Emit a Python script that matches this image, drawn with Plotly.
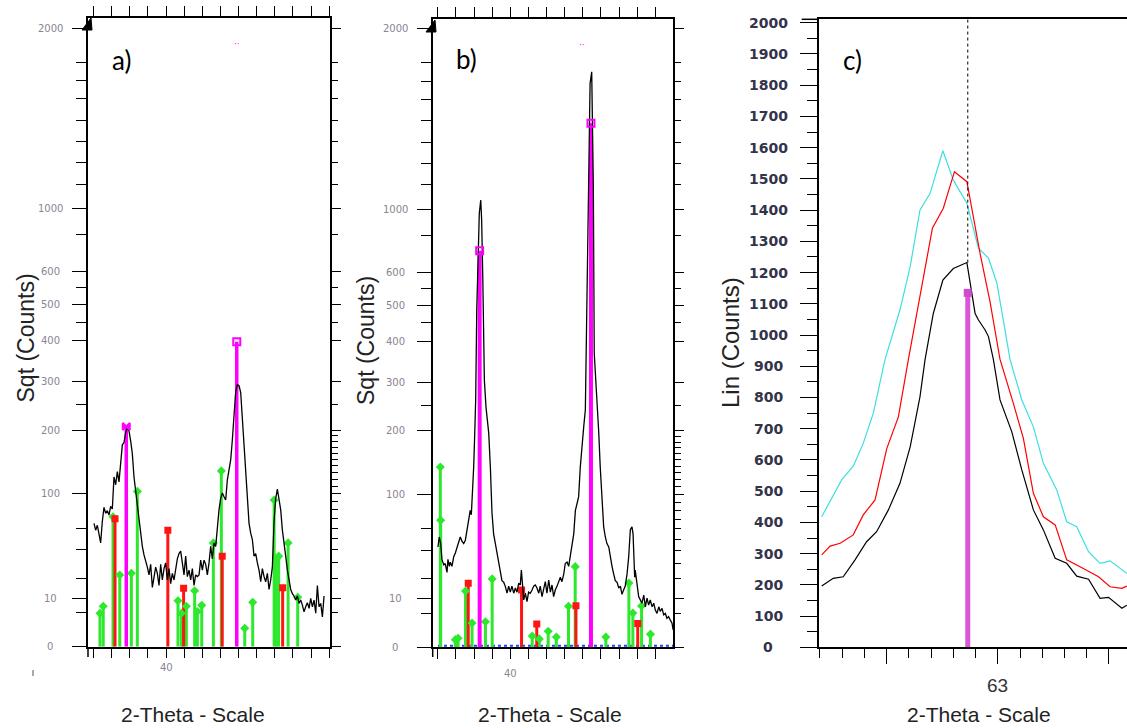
import numpy as np
import plotly.graph_objects as go

# ======================= DATA =======================
# ---- panel a) : square-root intensity scale ----
a_scan_start = 36.03          # 2-theta of first measured point
a_scan_step = 0.0919          # 2-theta step of the scan
a_counts = [65, 58, 63, 52, 46, 67, 83, 76, 79, 74, 84, 81, 123, 112, 131, 116, 146, 174, 178, 196,
            205, 199, 181, 159, 123, 104, 84, 67, 54, 43, 36, 32, 27, 22, 29, 15, 21, 27, 23, 16,
            29, 19, 26, 30, 19, 26, 17, 23, 19, 26, 33, 37, 39, 30, 22, 35, 21, 25, 19, 26,
            16, 22, 21, 22, 32, 25, 32, 29, 22, 30, 43,
            33, 46, 43, 62, 80, 94, 101, 96, 92, 119, 138, 149, 183, 226, 278, 293, 291, 276, 220, 183,
            138, 96, 65, 55, 49, 35, 37, 30, 25, 18, 26, 21, 18, 23, 14, 19, 27, 67, 94, 106,
            92, 80, 58, 43, 35, 25, 18, 14, 12, 11, 9.3, 11, 8, 9.3, 7.4, 5.2, 6.8, 8.3, 6.3, 10,
            6.8, 9.3, 4.8, 16, 6.8, 8, 3.8, 11]
a_green_tt = [36.36, 36.54, 37.08, 37.45, 38.09, 38.42, 40.66, 40.85, 41.12, 41.58, 41.73, 41.97,
              42.61, 43.05, 44.34, 44.78, 45.96, 46.08, 46.21, 46.73, 47.26]
a_green_counts = [4.8, 7.0, 72, 22, 23, 103, 9.0, 4.8, 7.0, 13.4, 5.3, 7.3,
                  46, 132, 1.45, 8.4, 92, 33, 35, 46, 10.4]
a_red_tt = [37.19, 40.10, 40.97, 43.10, 46.43]
a_red_counts = [70, 58, 14.6, 35, 14.8]
a_mag_tt = [37.81, 43.90]
a_mag_counts = [207, 397]

# ---- panel b) : square-root intensity scale ----
b_tt = [36.01, 36.08, 36.16, 36.23, 36.33, 36.41, 36.51, 36.56, 36.64, 36.69, 36.78, 36.88, 36.97,
        37.06, 37.15, 37.24, 37.34, 37.43, 37.52, 37.61, 37.71, 37.79, 37.85, 37.93, 37.98, 38.04,
        38.09, 38.15, 38.29, 38.37, 38.42, 38.48, 38.57, 38.66, 38.81, 38.90, 38.99, 39.08, 39.17,
        39.27, 39.36, 39.45, 39.54, 39.64, 39.72, 39.82, 39.91, 40.00, 40.09, 40.19, 40.28, 40.37,
        40.46, 40.55, 40.61, 40.68, 40.74, 40.83, 40.92, 41.01, 41.10, 41.20, 41.29, 41.38, 41.47,
        41.57, 41.65, 41.75, 41.84, 41.93, 42.02, 42.12, 42.21, 42.30, 42.39, 42.48, 42.58, 42.67,
        42.76, 42.85, 42.95, 43.03, 43.13, 43.22, 43.31, 43.40, 43.50, 43.59, 43.68, 43.77, 43.86,
        43.95, 44.05, 44.14, 44.21, 44.27, 44.34, 44.40, 44.49, 44.54, 44.58, 44.63, 44.77, 44.88,
        44.96, 45.06, 45.15, 45.24, 45.33, 45.43, 45.52, 45.61, 45.70, 45.79, 45.89, 45.98, 46.07,
        46.16, 46.25, 46.34, 46.44, 46.53, 46.62, 46.71, 46.77, 46.81, 46.86, 46.89, 46.99, 47.08,
        47.17, 47.26, 47.36, 47.45, 47.54, 47.63, 47.72, 47.82, 47.91, 48.00, 48.09, 48.19, 48.27,
        48.37, 48.46, 48.55, 48.64, 48.73, 48.82, 48.92, 48.98]
b_counts = [43, 52, 46, 33, 29, 30, 24, 33, 28, 31, 28, 35, 38,
            43, 49, 52, 48, 46, 49, 59, 73, 80, 75, 106, 139, 196,
            261, 486, 805, 855, 780, 592, 305, 246, 196, 139, 77, 55, 46,
            38, 30, 23, 19, 18, 16, 12.5, 16, 13, 16, 12.5, 15, 13,
            17.5, 16.6, 25.5, 16, 9.6, 12.5, 8.9, 13, 12.5, 14, 16, 16.6, 15,
            12.5, 16, 11, 14, 18.4, 12.5, 19.3, 13, 16.6, 11, 14, 16, 18.4,
            21, 18.4, 23, 30, 31, 28, 35, 43, 55, 80, 89, 97, 139,
            178, 208, 241, 425, 614, 906, 1359, 1415, 1188, 906, 369, 278, 196,
            139, 101, 62, 52, 46, 43, 33, 28, 23, 19, 18, 15, 16,
            12, 14, 16, 23, 35, 59, 62, 55, 38, 21, 25.5, 16, 11,
            9.6, 8.3, 11.6, 7, 10.3, 7.6, 9.6, 7, 8.3, 5.9, 4.9, 7, 5.5,
            6.5, 4.5, 4.9, 3.6, 4, 3.2, 2.5, 1.3]
b_green_tt = [36.14, 36.16, 36.97, 37.12, 37.53, 37.89, 38.63, 39.00, 41.21, 41.60, 42.09, 42.54,
              43.21, 43.58, 45.27, 46.54, 46.76, 47.24, 47.73]
b_green_counts = [139, 69, 0.25, 0.35, 13.5, 2.5, 2.8, 20, 0.55, 0.3, 1.1, 0.45,
                  7.2, 27.8, 0.45, 17.6, 5.0, 7.3, 0.74]
b_red_tt = [37.68, 40.62, 41.46, 43.62, 47.03]
b_red_counts = [17.5, 14, 2.3, 7.4, 2.4]
b_mag_tt = [38.31, 44.45]
b_mag_counts = [672, 1173]
b_blue_baseline_counts = 0.01

# ---- panel c) : linear intensity scale ----
c_cyan_tt = [62.208, 62.252, 62.298, 62.350, 62.395, 62.440, 62.493, 62.560, 62.606, 62.650, 62.695,
             62.753, 62.800, 62.861, 62.913, 62.958, 62.996, 63.055, 63.108, 63.160, 63.205, 63.265,
             63.310, 63.355, 63.408, 63.460, 63.505, 63.580]
c_cyan = [418, 477, 536, 580, 653, 749, 922, 1080, 1219, 1400, 1453, 1590, 1496, 1422, 1278, 1246,
          1166, 922, 792, 706, 589, 504, 402, 386, 306, 269, 277, 237]
c_red_tt = [62.208, 62.246, 62.291, 62.350, 62.395, 62.448, 62.501, 62.553, 62.598, 62.650, 62.706,
            62.755, 62.805, 62.861, 62.920, 62.965, 63.010, 63.070, 63.115, 63.160, 63.205, 63.258,
            63.310, 63.370, 63.453, 63.505, 63.558, 63.580]
c_red = [296, 324, 333, 360, 424, 472, 637, 738, 922, 1123, 1342, 1406, 1523, 1491, 1262, 1107,
         922, 781, 669, 493, 418, 392, 280, 258, 226, 194, 189, 196]
c_black_tt = [62.208, 62.260, 62.305, 62.358, 62.410, 62.455, 62.508, 62.560, 62.606, 62.650, 62.673,
              62.710, 62.753, 62.800, 62.861, 62.875, 62.898, 62.913, 62.943, 62.958, 62.980, 63.010,
              63.063, 63.108, 63.160, 63.205, 63.258, 63.310, 63.355, 63.408, 63.460, 63.498, 63.558,
              63.580]
c_black = [196, 221, 226, 280, 338, 370, 440, 525, 642, 802, 922, 1069, 1176, 1213, 1232, 1166,
           1069, 1048, 1016, 995, 922, 792, 690, 568, 440, 376, 285, 269, 228, 218, 157, 160, 125, 135]
c_mag_tt = [62.865]
c_mag_counts = [1135]

# ---- axis labels ----
sq_tick_text = ['0', '10', '100', '200', '300', '400', '500', '600', '1000', '2000']
sq_tick_pos = [0, 3.162, 10, 14.142, 17.321, 20, 22.361, 24.495, 28.61, 40.42]   # sqrt units
sq_minor_left = [2.24, 4.47, 6.32, 7.75, 15.81, 21.21, 23.45, 26.91, 30.22, 31.63, 33.03, 34.42, 35.8, 37.0, 38.2]
sq_minor_right = list(np.sqrt([5, 20, 30, 40, 50, 60, 70, 80, 90, 110, 120, 130, 140, 150, 160, 170,
                               180, 190, 250, 450, 550])) + [26.91, 30.22, 31.63, 33.03, 34.42, 35.8, 37.0, 38.2]
lin_ticks = list(range(0, 2001, 100))

# ======================= STYLE / LAYOUT =======================
W, H = 1127, 728
def fx(p): return p / W
def fy(p): return 1 - p / H

GREEN = '#2ee82e'
RED = '#ff1414'
MAG = '#ff00ff'

def sticks(tt, vals):
    X, Y = [], []
    for t, v in zip(tt, vals):
        X += [t, t, None]
        Y += [0, v, None]
    return X, Y

fig = go.Figure()

def add_sqrt_panel(xa, ya, tt, counts, g_tt, g_c, r_tt, r_c, m_tt, m_c, mag_w, mag_symbols):
    gx, gy = sticks(g_tt, np.sqrt(g_c))
    fig.add_trace(go.Scatter(x=gx, y=gy, mode='lines', line=dict(color=GREEN, width=3),
                             xaxis=xa, yaxis=ya, hoverinfo='skip'))
    rx, ry = sticks(r_tt, np.sqrt(r_c))
    fig.add_trace(go.Scatter(x=rx, y=ry, mode='lines', line=dict(color=RED, width=3),
                             xaxis=xa, yaxis=ya, hoverinfo='skip'))
    fig.add_trace(go.Scatter(x=g_tt, y=np.sqrt(g_c), mode='markers',
                             marker=dict(symbol='diamond', size=7, color=GREEN),
                             xaxis=xa, yaxis=ya, hoverinfo='skip'))
    fig.add_trace(go.Scatter(x=r_tt, y=np.sqrt(r_c), mode='markers',
                             marker=dict(symbol='square', size=7, color=RED),
                             xaxis=xa, yaxis=ya, hoverinfo='skip'))
    mx, my = sticks(m_tt, np.sqrt(m_c))
    fig.add_trace(go.Scatter(x=mx, y=my, mode='lines', line=dict(color=MAG, width=mag_w),
                             xaxis=xa, yaxis=ya, hoverinfo='skip'))
    fig.add_trace(go.Scatter(x=tt, y=np.sqrt(counts), mode='lines', line=dict(color='black', width=1.3),
                             xaxis=xa, yaxis=ya, hoverinfo='skip'))
    fig.add_trace(go.Scatter(x=m_tt, y=np.sqrt(m_c), mode='markers',
                             marker=dict(symbol=mag_symbols, size=7, color=MAG, line=dict(color=MAG, width=2)),
                             xaxis=xa, yaxis=ya, hoverinfo='skip'))

a_tt = a_scan_start + a_scan_step * np.arange(len(a_counts))
add_sqrt_panel('x', 'y', a_tt, a_counts, a_green_tt, a_green_counts, a_red_tt, a_red_counts,
               a_mag_tt, a_mag_counts, 3.5, ['bowtie', 'square-open'])

# blue baseline phase in panel b
fig.add_trace(go.Scatter(x=[min(b_tt), max(b_tt)], y=[np.sqrt(b_blue_baseline_counts)] * 2, mode='lines',
                         line=dict(color='#2040ff', width=2, dash='dot'), xaxis='x2', yaxis='y2',
                         hoverinfo='skip'))
add_sqrt_panel('x2', 'y2', b_tt, b_counts, b_green_tt, b_green_counts, b_red_tt, b_red_counts,
               b_mag_tt, b_mag_counts, 4, ['square-open', 'square-open'])

# dummy traces so the right-side overlay axes render
fig.add_trace(go.Scatter(x=[None], y=[None], xaxis='x', yaxis='y4', hoverinfo='skip'))
fig.add_trace(go.Scatter(x=[None], y=[None], xaxis='x2', yaxis='y5', hoverinfo='skip'))

# panel c
fig.add_trace(go.Scatter(x=c_cyan_tt, y=c_cyan, mode='lines', line=dict(color='#3ddede', width=1.2),
                         xaxis='x3', yaxis='y3', hoverinfo='skip'))
fig.add_trace(go.Scatter(x=c_red_tt, y=c_red, mode='lines', line=dict(color='#ff0000', width=1.2),
                         xaxis='x3', yaxis='y3', hoverinfo='skip'))
fig.add_trace(go.Scatter(x=c_black_tt, y=c_black, mode='lines', line=dict(color='black', width=1.2),
                         xaxis='x3', yaxis='y3', hoverinfo='skip'))
cmx, cmy = sticks(c_mag_tt, c_mag_counts)
fig.add_trace(go.Scatter(x=cmx, y=cmy, mode='lines', line=dict(color='#d856d8', width=5),
                         xaxis='x3', yaxis='y3', hoverinfo='skip'))
fig.add_trace(go.Scatter(x=c_mag_tt, y=c_mag_counts, mode='markers',
                         marker=dict(symbol='square', size=8, color='#d04ad0'),
                         xaxis='x3', yaxis='y3', hoverinfo='skip'))
C_YMAX = 2011
fig.add_trace(go.Scatter(x=[c_mag_tt[0]] * 2, y=[max(c_black), C_YMAX], mode='lines',
                         line=dict(color='black', width=1, dash='dot'),
                         xaxis='x3', yaxis='y3', hoverinfo='skip'))

# ---------------- axes ----------------
def x_sqrt_axis(dom, rng, anchor):
    return dict(domain=[fx(dom[0]), fx(dom[1])], range=rng, anchor=anchor,
                showline=True, linecolor='black', linewidth=1.5, mirror='allticks',
                ticks='outside', tickvals=[40, 45], ticklen=10, tickwidth=1, tickcolor='black',
                showticklabels=False, showgrid=False, zeroline=False,
                minor=dict(tickmode='array', tickvals=list(range(36, 50)), ticklen=5, tickwidth=1,
                           tickcolor='black', ticks='outside', showgrid=False))

def y_sqrt_axis(dom, rng, anchor):
    return dict(domain=[fy(dom[0]), fy(dom[1])], range=rng, anchor=anchor,
                showline=True, linecolor='black', linewidth=1.5, mirror=True,
                ticks='outside', tickvals=sq_tick_pos, ticklen=14, tickwidth=1.3, tickcolor='black',
                showticklabels=False, showgrid=False, zeroline=False,
                minor=dict(tickmode='array', tickvals=sq_minor_left, ticklen=10, tickwidth=1.3,
                           tickcolor='black', ticks='outside', showgrid=False))

def y_right_axis(over, rng, anchor):
    return dict(overlaying=over, side='right', anchor=anchor, range=rng,
                showline=False, ticks='outside', tickvals=sq_tick_pos, ticklen=10, tickwidth=1.3,
                tickcolor='black', showticklabels=False, showgrid=False, zeroline=False,
                minor=dict(tickmode='array', tickvals=sq_minor_right, ticklen=7, tickwidth=1.3,
                           tickcolor='black', ticks='outside', showgrid=False))

A_Y = [0, 41.12]
B_Y = [0, 41.07]
layout = dict(
    width=W, height=H, margin=dict(l=0, r=0, t=0, b=0),
    paper_bgcolor='white', plot_bgcolor='white', showlegend=False,
    xaxis=x_sqrt_axis((88, 330), [35.70, 49.04], 'y'),
    yaxis=y_sqrt_axis((646.7, 17.5), A_Y, 'x'),
    xaxis2=x_sqrt_axis((432.7, 673.3), [35.72, 48.99], 'y2'),
    yaxis2=y_sqrt_axis((647.3, 19.0), B_Y, 'x2'),
    yaxis4=y_right_axis('y', A_Y, 'x'),
    yaxis5=y_right_axis('y2', B_Y, 'x2'),
    xaxis3=dict(domain=[fx(819), 1.0], range=[62.196, 63.581], anchor='y3',
                showline=True, linecolor='black', linewidth=1.5, mirror=True,
                ticks='outside', tickvals=[62.5, 63, 63.5], ticklen=15, tickwidth=1.3, tickcolor='black',
                showticklabels=False, showgrid=False, zeroline=False,
                minor=dict(tick0=62.0, dtick=0.1, ticklen=9, tickwidth=1.3, tickcolor='black',
                           ticks='outside', showgrid=False)),
    yaxis3=dict(domain=[fy(647.3), fy(19.3)], range=[0, C_YMAX], anchor='x3',
                showline=True, linecolor='black', linewidth=1.5,
                ticks='outside', tickvals=lin_ticks, ticklen=17, tickwidth=1.3, tickcolor='black',
                showticklabels=False, showgrid=False, zeroline=False,
                minor=dict(tick0=0, dtick=50, ticklen=10, tickwidth=1.3, tickcolor='black',
                           ticks='outside', showgrid=False)),
)
fig.update_layout(**layout)

# ---------------- text ----------------
ann = []
TICK_FONT = dict(family='DejaVu Sans', size=10, color='#8a8494')
for t, p in zip(sq_tick_text, sq_tick_pos):
    ann.append(dict(x=fx(50), xref='paper', y=p, yref='y', text=t, showarrow=False,
                    xanchor='center', yanchor='middle', font=TICK_FONT))
    ann.append(dict(x=fx(395), xref='paper', y=p, yref='y2', text=t, showarrow=False,
                    xanchor='center', yanchor='middle', font=TICK_FONT))
for v in lin_ticks:
    ann.append(dict(x=fx(768), xref='paper', y=v, yref='y3', text=str(v), showarrow=False,
                    xanchor='center', yanchor='middle',
                    font=dict(family='DejaVu Sans', size=14, color='#33334a', weight='bold')))
ann.append(dict(x=40, xref='x', y=fy(667), yref='paper', text='40', showarrow=False,
                xanchor='center', yanchor='middle', font=TICK_FONT))
ann.append(dict(x=40, xref='x2', y=fy(673), yref='paper', text='40', showarrow=False,
                xanchor='center', yanchor='middle', font=TICK_FONT))
ann.append(dict(x=63, xref='x3', y=fy(685), yref='paper', text='63', showarrow=False,
                xanchor='center', yanchor='middle',
                font=dict(family='Liberation Sans', size=19, color='#333333')))
TITLE_FONT = dict(family='Liberation Sans', size=21, color='#222222')
for cx in (193, 550, 978.7):
    ann.append(dict(x=fx(cx), xref='paper', y=fy(714.5), yref='paper', text='2-Theta - Scale',
                    showarrow=False, xanchor='center', yanchor='middle', font=TITLE_FONT))
for cx, cy, txt, sz in ((25.5, 338, 'Sqt (Counts)', 23), (366, 341, 'Sqt (Counts)', 23),
                        (730, 343, 'Lin (Counts)', 24)):
    ann.append(dict(x=fx(cx), xref='paper', y=fy(cy), yref='paper', text=txt, textangle=-90,
                    showarrow=False, xanchor='center', yanchor='middle',
                    font=dict(family='Liberation Sans', size=sz, color='#222222')))
for cx, cy, txt in ((121, 60, 'a)'), (466.5, 58.5, 'b)'), (852.5, 60, 'c)')):
    ann.append(dict(x=fx(cx), xref='paper', y=fy(cy), yref='paper', text=txt, showarrow=False,
                    xanchor='center', yanchor='middle', font=dict(family='Lato', size=26, color='black')))
for cx, cy in ((237, 44), (582, 45)):
    ann.append(dict(x=fx(cx), xref='paper', y=fy(cy), yref='paper', text='··', showarrow=False,
                    xanchor='center', yanchor='middle', font=dict(family='DejaVu Sans', size=9, color=MAG)))
fig.update_layout(annotations=ann)

# ---------------- decorations ----------------
def tri(x0, y0):
    return (f'M {fx(x0 - 9)},{fy(y0 + 12)} L {fx(x0)},{fy(y0)} L {fx(x0 + 1)},{fy(y0 + 12)} Z')

shapes = [
    dict(type='path', path=tri(91, 18), xref='paper', yref='paper', fillcolor='black',
         line=dict(color='black', width=1)),
    dict(type='path', path=tri(435, 20), xref='paper', yref='paper', fillcolor='black',
         line=dict(color='black', width=1)),
    dict(type='line', x0=fx(88), x1=fx(88), y0=fy(647), y1=fy(657), xref='paper', yref='paper',
         line=dict(color='black', width=1.5)),
    dict(type='line', x0=fx(432.7), x1=fx(432.7), y0=fy(647), y1=fy(657), xref='paper', yref='paper',
         line=dict(color='black', width=1.5)),
    dict(type='line', x0=fx(801.7), x1=fx(819), y0=fy(19.3), y1=fy(19.3), xref='paper', yref='paper',
         line=dict(color='black', width=1.5)),
    dict(type='line', x0=fx(33), x1=fx(33), y0=fy(670), y1=fy(676), xref='paper', yref='paper',
         line=dict(color='#8888aa', width=1.5)),
]
fig.update_layout(shapes=shapes)

fig.write_html('out.html', config={'displayModeBar': False},
               post_script="document.body.style.margin='0px';document.body.style.overflow='hidden';")
